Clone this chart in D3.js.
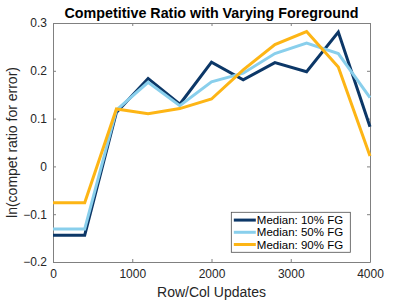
<!DOCTYPE html>
<html>
<head>
<meta charset="utf-8">
<script src="https://cdn.jsdelivr.net/npm/d3@7"></script>
<style>
  body { margin: 0; background: #fff; }
  text { font-family: 'Liberation Sans', Arial, sans-serif; }
</style>
</head>
<body>
<div id="chart"></div>
<script>
const updates = [0, 400, 800, 1200, 1600, 2000, 2400, 2800, 3200, 3600, 4000]
const fg10 = [-0.144, -0.144, 0.113, 0.184, 0.130, 0.218, 0.181, 0.217, 0.198, 0.281, 0.083]
const fg50 = [-0.131, -0.131, 0.118, 0.176, 0.127, 0.177, 0.195, 0.236, 0.258, 0.236, 0.144]
const fg90 = [-0.076, -0.076, 0.120, 0.110, 0.121, 0.141, 0.202, 0.255, 0.282, 0.208, 0.022]
const seriesNames = ['Median: 10% FG', 'Median: 50% FG', 'Median: 90% FG']
const xTicks = [0, 1000, 2000, 3000, 4000]
const yTicks = [-0.2, -0.1, 0, 0.1, 0.2, 0.3]

const colors = ['#0c3767', '#89cfec', '#fdb515']
const series = [fg10, fg50, fg90]

const margin = { top: 23, left: 53, right: 39, bottom: 38 }
const width = 409 - margin.left - margin.right
const height = 300 - margin.top - margin.bottom

const svg = d3
  .select('#chart')
  .append('svg')
  .attr('width', 409)
  .attr('height', 300)

const g = svg
  .append('g')
  .attr('transform', 'translate(' + margin.left + ',' + margin.top + ')')

const x = d3.scaleLinear().domain([0, 4000]).range([0, width])
const y = d3.scaleLinear().domain([-0.2, 0.3]).range([height, 0])

const axisColor = '#808080'
const labelColor = '#262626'

function styleAxis(sel, labels) {
  sel.select('.domain').attr('stroke', axisColor)
  sel.selectAll('.tick line').attr('stroke', axisColor)
  sel
    .selectAll('.tick text')
    .attr('fill', labels ? labelColor : 'none')
    .style('font-size', '12px')
}

// Axes (box with inward ticks)
g.append('g')
  .attr('transform', `translate(0,${height})`)
  .call(d3.axisBottom(x).tickValues(xTicks).tickSizeInner(-3).tickSizeOuter(0).tickPadding(7).tickFormat(d3.format('d')))
  .call(s => styleAxis(s, true))

g.append('g')
  .call(d3.axisTop(x).tickValues(xTicks).tickSizeInner(-3).tickSizeOuter(0).tickFormat(''))
  .call(s => styleAxis(s, false))

g.append('g')
  .call(d3.axisLeft(y).tickValues(yTicks).tickSizeInner(-3).tickSizeOuter(0).tickPadding(6).tickFormat(d => d === 0 ? '0' : d3.format('.1f')(d)))
  .call(s => styleAxis(s, true))

g.append('g')
  .attr('transform', `translate(${width},0)`)
  .call(d3.axisRight(y).tickValues(yTicks).tickSizeInner(-3).tickSizeOuter(0).tickFormat(''))
  .call(s => styleAxis(s, false))

// Lines
const line = d3
  .line()
  .x((d, i) => x(updates[i]))
  .y(d => y(d))

g.selectAll('.series')
  .data(series)
  .enter()
  .append('path')
  .attr('class', 'series')
  .attr('d', line)
  .attr('fill', 'none')
  .attr('stroke', (d, i) => colors[i])
  .attr('stroke-width', 3)
  .attr('stroke-linejoin', 'miter')

// Title and labels
svg
  .append('text')
  .attr('x', margin.left + width / 2)
  .attr('y', 18)
  .attr('text-anchor', 'middle')
  .style('font-size', '14.3px')
  .style('font-weight', 'bold')
  .attr('fill', '#000')
  .text('Competitive Ratio with Varying Foreground')

svg
  .append('text')
  .attr('x', margin.left + width / 2)
  .attr('y', 297)
  .attr('text-anchor', 'middle')
  .style('font-size', '14px')
  .attr('fill', labelColor)
  .text('Row/Col Updates')

svg
  .append('text')
  .attr('transform', `translate(17,${margin.top + height / 2}) rotate(-90)`)
  .attr('text-anchor', 'middle')
  .style('font-size', '14px')
  .attr('fill', labelColor)
  .text('ln(compet ratio for error)')

// Legend
const legend = g.append('g').attr('transform', `translate(${x(2250)},${y(-0.096)})`)

legend
  .append('rect')
  .attr('width', 119)
  .attr('height', 40)
  .attr('fill', '#fff')
  .attr('stroke', '#4d4d4d')
  .attr('stroke-width', 0.8)

legend
  .selectAll('.legend')
  .data(seriesNames)
  .enter()
  .append('g')
  .attr('class', 'legend')
  .attr('transform', (d, i) => `translate(0,${7.8 + i * 12.2})`)
  .each(function(d, i) {
    const row = d3.select(this)
    row
      .append('line')
      .attr('x1', 2.5)
      .attr('x2', 24.5)
      .attr('stroke', colors[i])
      .attr('stroke-width', 3)
    row
      .append('text')
      .attr('x', 25.5)
      .attr('dy', '0.35em')
      .style('font-size', '11.5px')
      .attr('fill', '#000')
      .text(d)
  })
</script>
</body>
</html>
